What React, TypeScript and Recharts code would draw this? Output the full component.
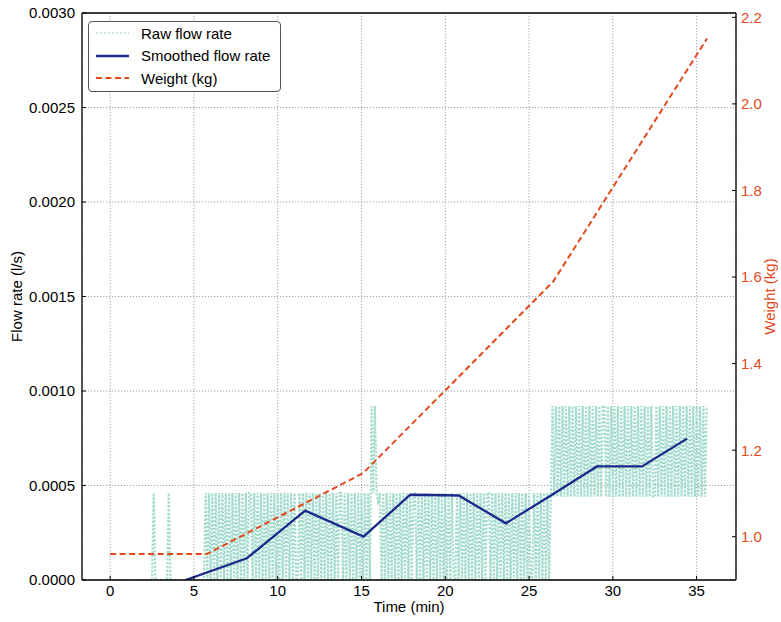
import React from "react";
import { LineChart, Line, XAxis, YAxis, CartesianGrid, Legend, ReferenceLine, Label } from "recharts";

const FONT = '"Liberation Sans", Arial, sans-serif';
const ORANGE = "#e2491d";
const NAVY = "#1c2a8c";
const TEAL = "#a3dbcd";

const timeTicks = [0, 5, 10, 15, 20, 25, 30, 35];
const flowTicks = [0, 0.0005, 0.001, 0.0015, 0.002, 0.0025, 0.003];
const weightTicks = [1.0, 1.2, 1.4, 1.6, 1.8, 2.0, 2.2];

// smoothed flow (l/s), one value per window
const smoothTime = [4.5, 8.16, 11.64, 15.12, 17.91, 20.8, 23.62, 26.35, 29.05, 31.74, 34.43];
const smoothFlow = [0, 0.000115, 0.000367, 0.00023, 0.000451, 0.000447, 0.0003, 0.00045, 0.000601, 0.000601, 0.000748];

// scale reading (kg)
const weightTime = [0, 5.77, 15.1, 26.45, 35.62];
const weightKg = [0.96, 0.96, 1.147, 1.59, 2.151];

// raw flow: one code per sample (0.1 min apart), codes index rawLevels
const rawStep = 0.1;
const rawLevels = [0, 0.00046, 0.00092, 0.00044, 0.0004];
const rawCodes = `
0000000000 0000000000 0000001000 0000010000 0000000000
0000000101 0101010101 0101010101 0101101010 1010101010
1010101010 1001010101 0101010101 0101010110 1010101010
1010102121 4101010101 0101010101 0110101010 1010101010
1010100101 0101010101 0101011010 1010101010 1010101010
1001010101 0101232323 2323232323 2323232323 2323223232
3232323232 3232323232 3232332323 2323232323 2323232323
2323232
`.replace(/\s+/g, "");

const rawData = rawCodes.split("").map((c, i) => ({ t: +(i * rawStep).toFixed(1), flow: rawLevels[+c] }));
const smoothData = smoothTime.map((t, i) => ({ t, flow: smoothFlow[i] }));
const weightData = weightTime.map((t, i) => ({ t, kg: weightKg[i] }));

const XTick = ({ x, y, payload }: any) => (
  <g>
    <line x1={x} y1={y} x2={x} y2={y - 4} stroke="#000" />
    <text x={x} y={y + 16} textAnchor="middle" fontSize={15} fontFamily={FONT} fill="#000">{payload.value}</text>
  </g>
);

const FlowTick = ({ x, y, payload }: any) => (
  <g>
    <line x1={x} y1={y} x2={x + 4} y2={y} stroke="#000" />
    <text x={x - 7} y={y + 5.4} textAnchor="end" fontSize={15} fontFamily={FONT} fill="#000">{payload.value.toFixed(4)}</text>
  </g>
);

const WeightTick = ({ x, y, payload }: any) => (
  <g>
    <line x1={x} y1={y} x2={x - 4} y2={y} stroke="#000" />
    <text x={x + 5} y={y + 5.4} textAnchor="start" fontSize={15} fontFamily={FONT} fill={ORANGE}>{payload.value.toFixed(1)}</text>
  </g>
);

const legendItems = [
  { label: "Raw flow rate", color: TEAL, width: 1.5, dash: "1.5 2.5" },
  { label: "Smoothed flow rate", color: NAVY, width: 2.3, dash: undefined },
  { label: "Weight (kg)", color: ORANGE, width: 2, dash: "6 3.5" }
];

const LegendBox = () => (
  <div style={{ position: "relative", width: 193, height: 71, boxSizing: "border-box", border: "1px solid #555", borderRadius: 4, background: "#fff", fontFamily: FONT, fontSize: 15, color: "#000" }}>
    {legendItems.map((it, i) => (
      <div key={it.label} style={{ position: "absolute", left: 0, top: 0 + 22.5 * i, height: 22, display: "flex", alignItems: "center" }}>
        <svg width={48} height={22} style={{ display: "block" }}>
          <line x1={7} x2={40} y1={11} y2={11} stroke={it.color} strokeWidth={it.width} strokeDasharray={it.dash} />
        </svg>
        <span style={{ marginLeft: 4, whiteSpace: "nowrap" }}>{it.label}</span>
      </div>
    ))}
  </div>
);

export default function App() {
  return (
    <div style={{ position: "absolute", left: 0, top: 0, width: 781, height: 622, background: "#fff" }}>
      <LineChart width={781} height={622} margin={{ top: 13, right: 0, bottom: 0, left: 0 }}>
        <CartesianGrid yAxisId="flow" stroke="#8a8a8a" strokeDasharray="1.2 1.8" strokeWidth={0.8} />
        <XAxis dataKey="t" type="number" domain={[-1.68, 37.35]} ticks={timeTicks} interval={0} allowDataOverflow
          height={42} tickSize={0} tickMargin={0} tickLine={false} tick={(p: any) => <XTick {...p} />}
          axisLine={{ stroke: "#000", strokeWidth: 1.3 }}>
          <Label value="Time (min)" position="center" dy={6} fontSize={15} fontFamily={FONT} fill="#000" />
        </XAxis>
        <YAxis yAxisId="flow" orientation="left" width={82} domain={[0, 0.003]} ticks={flowTicks} interval={0} allowDataOverflow
          tickSize={0} tickMargin={0} tickLine={false} tick={(p: any) => <FlowTick {...p} />}
          axisLine={{ stroke: "#000", strokeWidth: 1.3 }}>
          <Label value="Flow rate (l/s)" angle={-90} position="center" dx={-24} fontSize={15} fontFamily={FONT} fill="#000" />
        </YAxis>
        <YAxis yAxisId="kg" orientation="right" width={45} domain={[0.9, 2.21]} ticks={weightTicks} interval={0} allowDataOverflow
          tickSize={0} tickMargin={0} tickLine={false} tick={(p: any) => <WeightTick {...p} />}
          axisLine={{ stroke: "#000", strokeWidth: 1.3 }}>
          <Label value="Weight (kg)" angle={-90} position="center" dx={11.5} fontSize={15} fontFamily={FONT} fill={ORANGE} />
        </YAxis>
        <ReferenceLine yAxisId="flow" y={0.003} stroke="#000" strokeWidth={1.3} />
        <Line yAxisId="flow" data={rawData} dataKey="flow" name="Raw flow rate" type="linear" stroke={TEAL}
          strokeWidth={2.2} strokeDasharray="2.2 1.6" dot={false} isAnimationActive={false} />
        <Line yAxisId="flow" data={smoothData} dataKey="flow" name="Smoothed flow rate" type="linear" stroke={NAVY}
          strokeWidth={2.3} dot={false} isAnimationActive={false} />
        <Line yAxisId="kg" data={weightData} dataKey="kg" name="Weight (kg)" type="linear" stroke={ORANGE}
          strokeWidth={2} strokeDasharray="6 3.5" dot={false} isAnimationActive={false} />
        <Legend layout="horizontal" align="center" verticalAlign="middle" content={() => <LegendBox />}
          wrapperStyle={{ left: 88, top: 21, width: 193, height: 71 }} />
      </LineChart>
    </div>
  );
}
